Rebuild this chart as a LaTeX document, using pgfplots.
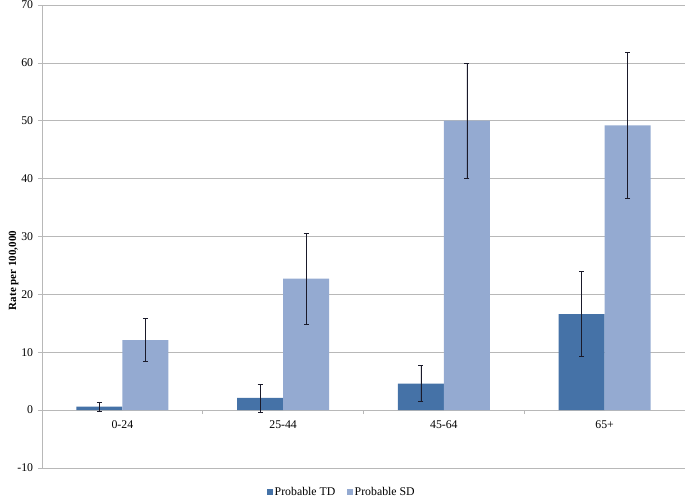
\documentclass[border=0pt]{standalone}
\usepackage{pgfplots}
\pgfplotsset{compat=1.18}
\usepackage{fontspec}
\setmainfont{Liberation Serif}
\definecolor{td}{HTML}{4572A7}
\definecolor{sd}{HTML}{94AAD1}
\definecolor{gridc}{HTML}{B8B8B8}
\definecolor{errc}{HTML}{1A1A2A}
\begin{document}
\fontsize{11bp}{13bp}\selectfont
\begin{tikzpicture}
\begin{axis}[
  scale only axis, width=643bp, height=463bp,
  ymin=-10, ymax=70, ytick={-10,0,...,70},
  xmin=-0.5, xmax=3.5,
  xtick={0,1,2,3}, xticklabels={0-24,25-44,45-64,65+},
  minor xtick={0.5,1.5,2.5,3.5},
  axis y line=left, axis x line=middle,
  axis line style={-, draw=gridc, line width=0.7pt},
  ymajorgrids, grid style={gridc, line width=0.7pt},
  tick align=outside,
  major x tick style={draw=none},
  minor x tick style={draw=gridc, line width=0.7pt},
  minor tick length=4bp,
  y tick style={draw=gridc, line width=0.7pt},
  major tick length=4bp,
  /pgf/number format/assume math mode=true,
  tick label style={font=\fontsize{11.8bp}{13bp}\selectfont},
  yticklabel style={xshift=-1bp},
  xticklabel style={yshift=-3bp},
  ylabel={\bfseries Rate per 100,000},
  ylabel style={font=\fontsize{12.5bp}{14bp}\selectfont},
  every axis y label/.style={at={(ticklabel cs:0.5)}, rotate=90, anchor=center, xshift=-34bp},
  ybar=0pt, bar width=46bp,
  legend style={at={(0.4666,0)}, anchor=center, yshift=-24bp, draw=none, legend columns=2,
    font=\fontsize{11.8bp}{13bp}\selectfont,
    /tikz/every even column/.append style={column sep=10bp}},
  legend image code/.code={\fill[#1] (0bp,-2.7bp) rectangle (5.4bp,2.7bp);},
]
\addplot[fill=td, draw=none,
  error bars/.cd, y dir=both, y explicit,
  error bar style={errc, line width=0.7pt},
  error mark options={errc, rotate=90, mark size=2.5bp, line width=0.7pt}]
  coordinates {(0,0.6) +- (0,0.8) (1,2.1) +- (0,2.4) (2,4.6) +- (0,3.1) (3,16.6) +- (0,7.3)};
\addplot[fill=sd, draw=none,
  error bars/.cd, y dir=both, y explicit,
  error bar style={errc, line width=0.7pt},
  error mark options={errc, rotate=90, mark size=2.5bp, line width=0.7pt}]
  coordinates {(0,12.1) +- (0,3.7) (1,22.7) +- (0,7.8) (2,50.0) +- (0,10.0) (3,49.2) +- (0,12.6)};
\legend{Probable TD, Probable SD}
\end{axis}
\pgfresetboundingbox
\path (-42bp,-29bp) rectangle (643bp,468bp);
\end{tikzpicture}
\end{document}
